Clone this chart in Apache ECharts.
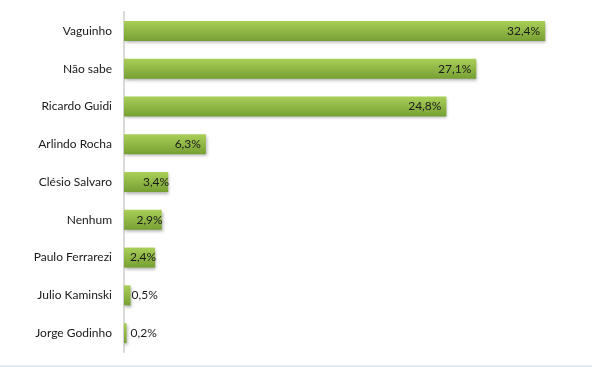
<!DOCTYPE html>
<html><head><meta charset="utf-8">
<script src="https://cdn.jsdelivr.net/npm/echarts@6/dist/echarts.min.js"></script>
<style>html,body{margin:0;padding:0;background:#fff}#c{width:592px;height:367px}</style>
</head><body><div id="c"></div>
<script>
const categories = ["Vaguinho","Não sabe","Ricardo Guidi","Arlindo Rocha","Clésio Salvaro","Nenhum","Paulo Ferrarezi","Julio Kaminski","Jorge Godinho"];
const values = [32.4,27.1,24.8,6.3,3.4,2.9,2.4,0.5,0.2];
const fmt = v => v.toFixed(1).replace('.', ',') + '%';
const chart = echarts.init(document.getElementById('c'));
const fill = new echarts.graphic.LinearGradient(0,0,0,1,[{offset:0,color:'#a9cf58'},{offset:1,color:'#77a034'}]);
chart.setOption({
  animation:false,
  grid:{left:124,top:12,bottom:15,width:470},
  xAxis:{type:'value',min:0,max:36,show:false},
  yAxis:{type:'category',data:categories,inverse:true,
    axisLine:{show:true,lineStyle:{color:'#d9d9d9',width:2}},
    axisTick:{show:false},
    axisLabel:{margin:12,color:'#1a1a1a',fontFamily:'Lato',fontSize:12}},
  series:[{type:'bar',barWidth:20,
    data:values.map(v=>({value:v,label:{position: v<1?'right':'insideRight', distance: v<0.3?4:1, offset: v<1?[0,0]:(v<5?[2,0]:[-4,0])}})),
    itemStyle:{color:fill,shadowColor:'rgba(0,0,0,0.3)',shadowBlur:3,shadowOffsetX:1,shadowOffsetY:2},
    label:{show:true,color:'#1a1a1a',fontFamily:'Lato',fontSize:12,formatter:p=>fmt(p.value)}
  }],
  graphic:[{type:'rect',shape:{x:0,y:365,width:592,height:2},style:{fill:'#e3ebf3'}}]
});
</script></body></html>
